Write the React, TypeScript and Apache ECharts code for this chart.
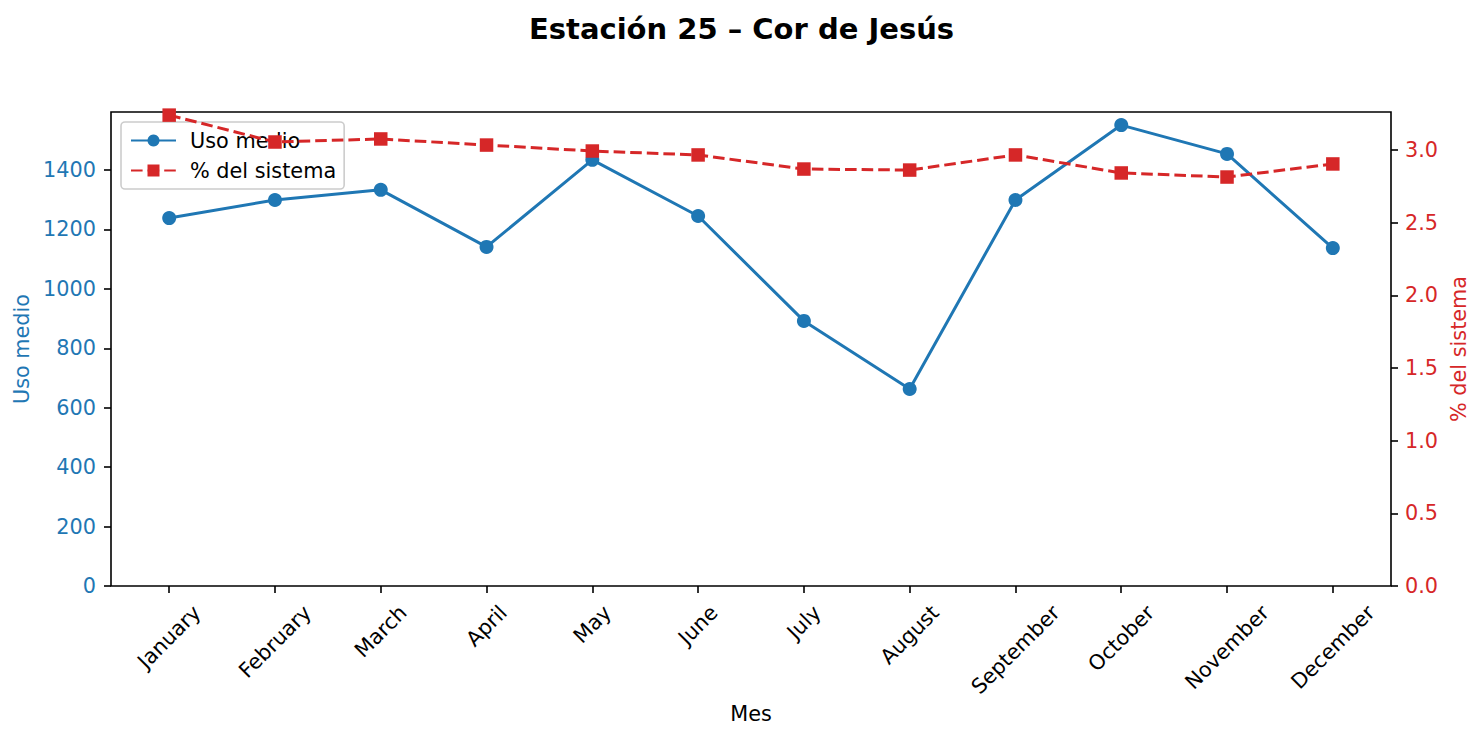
import React, { useEffect, useRef } from "react";
import * as echarts from "echarts";

const months = [
  "January", "February", "March", "April", "May", "June",
  "July", "August", "September", "October", "November", "December",
];
const usoMedio = [1238, 1299, 1333, 1141, 1434, 1245, 892, 663, 1299, 1551, 1454, 1137];
const pctSistema = [3.24, 3.055, 3.076, 3.034, 2.993, 2.966, 2.869, 2.862, 2.966, 2.842, 2.814, 2.904];
const leftTicks = [0, 200, 400, 600, 800, 1000, 1200, 1400];
const rightTicks = [0, 0.5, 1.0, 1.5, 2.0, 2.5, 3.0];
const monthIdx = months.map((_, i) => i);

const BLUE = "#1f77b4";
const RED = "#d62728";
const FONT = '"DejaVu Sans", sans-serif';
const FS = 20.8;

export default function App() {
  const ref = useRef<HTMLDivElement>(null);
  useEffect(() => {
    if (!ref.current) return;
    const chart = echarts.init(ref.current, null, { renderer: "svg" });
    chart.setOption({
      animation: false,
      backgroundColor: "#ffffff",
      title: {
        text: "Estación 25 – Cor de Jesús",
        left: "center",
        top: 14,
        padding: 0,
        textStyle: { fontSize: 29, fontWeight: "bold", fontFamily: FONT, color: "#000" },
      },
      grid: {
        left: 111, right: 92, top: 112, bottom: 154,
        outerBoundsMode: "none",
        containLabel: false,
        show: true, borderColor: "#000", borderWidth: 1.6, backgroundColor: "transparent",
      },
      legend: {
        orient: "vertical",
        left: 121,
        top: 122,
        z: 1,
        itemWidth: 45,
        itemHeight: 15,
        itemGap: 9,
        padding: [8, 8, 8, 9],
        backgroundColor: "rgba(255,255,255,0.8)",
        borderColor: "#cccccc",
        borderWidth: 1.6,
        borderRadius: 4,
        textStyle: { fontSize: FS, fontFamily: FONT, color: "#000", padding: [0, 0, 0, 9] },
        data: ["Uso medio", "% del sistema"],
      },
      xAxis: {
        type: "value",
        min: -0.55,
        max: 11.55,
        name: "Mes",
        nameLocation: "middle",
        nameGap: 117,
        nameTextStyle: { fontSize: FS, fontFamily: FONT, color: "#000" },
        axisLine: { show: false, onZero: false },
        axisTick: { show: true, inside: false, length: 7, lineStyle: { color: "#000", width: 1.6 }, customValues: monthIdx },
        axisLabel: { show: false },
        splitLine: { show: false },
      },
      yAxis: [
        {
          type: "value",
          min: 0,
          max: 1595,
          position: "left",
          name: "Uso medio",
          nameLocation: "middle",
          nameRotate: 90,
          nameGap: 75,
          nameTextStyle: { fontSize: FS, fontFamily: FONT, color: BLUE },
          axisLine: { show: false, onZero: false },
          axisTick: { show: true, inside: false, length: 7, lineStyle: { color: "#000", width: 1.6 }, customValues: leftTicks },
          axisLabel: {
            fontSize: FS, fontFamily: FONT, color: BLUE, margin: 15, customValues: leftTicks,
            formatter: (v: number) => String(v),
          },
          splitLine: { show: false },
        },
        {
          type: "value",
          min: 0,
          max: 3.2615,
          position: "right",
          name: "% del sistema",
          nameLocation: "middle",
          nameRotate: 90,
          nameGap: 55,
          nameTextStyle: { fontSize: FS, fontFamily: FONT, color: RED },
          axisLine: { show: false, onZero: false },
          axisTick: { show: true, inside: false, length: 7, lineStyle: { color: "#000", width: 1.6 }, customValues: rightTicks },
          axisLabel: {
            fontSize: FS, fontFamily: FONT, color: RED, margin: 14, customValues: rightTicks,
            formatter: (v: number) => v.toFixed(1),
          },
          splitLine: { show: false },
        },
      ],
      series: [
        {
          name: "Uso medio",
          type: "line",
          xAxisIndex: 0,
          yAxisIndex: 0,
          z: 2,
          data: usoMedio.map((v, i) => [i, v]),
          symbol: "circle",
          symbolSize: 14,
          itemStyle: { color: BLUE },
          lineStyle: { color: BLUE, width: 3 },
        },
        {
          name: "% del sistema",
          type: "line",
          xAxisIndex: 0,
          yAxisIndex: 1,
          z: 3,
          data: pctSistema.map((v, i) => [i, v]),
          symbol: "rect",
          symbolSize: 13.5,
          itemStyle: { color: RED },
          lineStyle: { color: RED, width: 3, type: [11.6, 5] },
        },
      ],
    });

    const ctx = document.createElement("canvas").getContext("2d");
    if (ctx) ctx.font = `${FS}px ${FONT}`;
    const y0 = chart.convertToPixel({ yAxisIndex: 0 }, 0) as number;
    const graphics = months.map((m, i) => {
      const px = chart.convertToPixel({ xAxisIndex: 0 }, i) as number;
      const L = ctx ? ctx.measureText(m).width : m.length * 12;
      return {
        type: "text",
        x: px + 0.354 * L,
        y: y0 + 14.6 + 8.5,
        rotation: Math.PI / 4,
        style: {
          text: m,
          align: "right",
          verticalAlign: "middle",
          fontSize: FS,
          fontFamily: FONT,
          fill: "#000",
        },
      };
    });
    chart.setOption({ graphic: graphics });

    return () => chart.dispose();
  }, []);

  return (
    <div
      ref={ref}
      style={{ position: "fixed", left: 0, top: 0, width: 1483, height: 740, background: "#fff" }}
    />
  );
}
